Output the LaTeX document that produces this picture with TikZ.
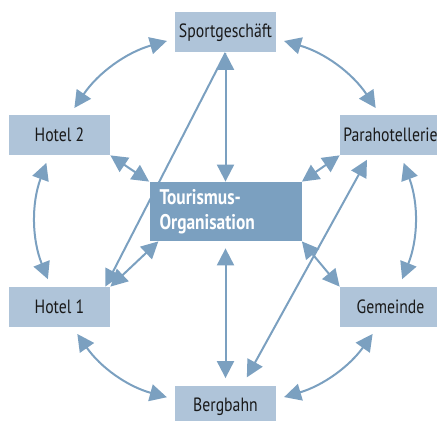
\documentclass[tikz,border=0pt]{standalone}
\usepackage{fontspec}
\setmainfont[FakeStretch=0.82]{PT Sans}
\usetikzlibrary{arrows.meta}
\definecolor{hellblau}{RGB}{175,196,217}
\definecolor{mittelblau}{RGB}{123,160,192}
\definecolor{schrift}{RGB}{25,25,25}

\begin{document}
\begin{tikzpicture}[x=0.5pt, y=0.5pt, >={Triangle[length=8.5pt,width=8.5pt]},
		kasten/.style={fill=hellblau, text=schrift, inner sep=0pt, minimum width=50.5pt, minimum height=20pt, font=\fontsize{9.6}{11}\selectfont},
		zentrale/.style={fill=mittelblau, text=white, inner xsep=5pt, inner ysep=0pt, minimum width=76pt, minimum height=29.5pt, text width=66pt, align=left, font=\fontsize{10.6}{12.5}\selectfont\bfseries},
		pfeil/.style={mittelblau, line width=1pt, <->},
		bogen/.style={pfeil, shorten <=4pt, shorten >=4pt}]
	\useasboundingbox (0,0) rectangle (437,421);

	\node[kasten] (sport) at (225.5,388.5) {Sportgeschäft};
	\node[kasten] (hotelzwei) at (59.5,286) {Hotel 2};
	\node[kasten] (para) at (390.5,286) {Parahotellerie};
	\node[zentrale] (tour) at (225.5,209.5) {Tourismus-\\Organisation};
	\node[kasten] (hoteleins) at (59.5,114) {Hotel 1};
	\node[kasten] (gemeinde) at (390.5,114) {Gemeinde};
	\node[kasten] (bergbahn) at (225.5,14.5) {Bergbahn};

	\draw[bogen] (sport.187) to[bend right=20] (hotelzwei.63);
	\draw[bogen] (hotelzwei.243) to[bend right=21] (hoteleins.113);
	\draw[bogen] (hoteleins.303) to[bend right=20] (bergbahn.172);
	\draw[bogen] (bergbahn.8) to[bend right=19] (gemeinde.237);
	\draw[bogen] (gemeinde.67) to[bend right=21] (para.297);
	\draw[bogen] (para.117) to[bend right=20] (sport.353);

	\draw[pfeil] (tour) -- (sport);
	\draw[pfeil, ->] (sport.south) -- (hoteleins.24);
	\draw[pfeil] (hotelzwei.south east) -- (tour.north west);
	\draw[pfeil] (para.south west) -- (tour.north east);
	\draw[pfeil] (tour.204) -- (hoteleins.north east);
	\draw[pfeil] (tour.south east) -- (gemeinde.north west);
	\draw[pfeil, shorten <=3.5pt, shorten >=4pt] (tour) -- (bergbahn);
	\draw[pfeil, shorten <=2.5pt, shorten >=5pt] (para.224) -- (bergbahn.51);
\end{tikzpicture}
\end{document}
